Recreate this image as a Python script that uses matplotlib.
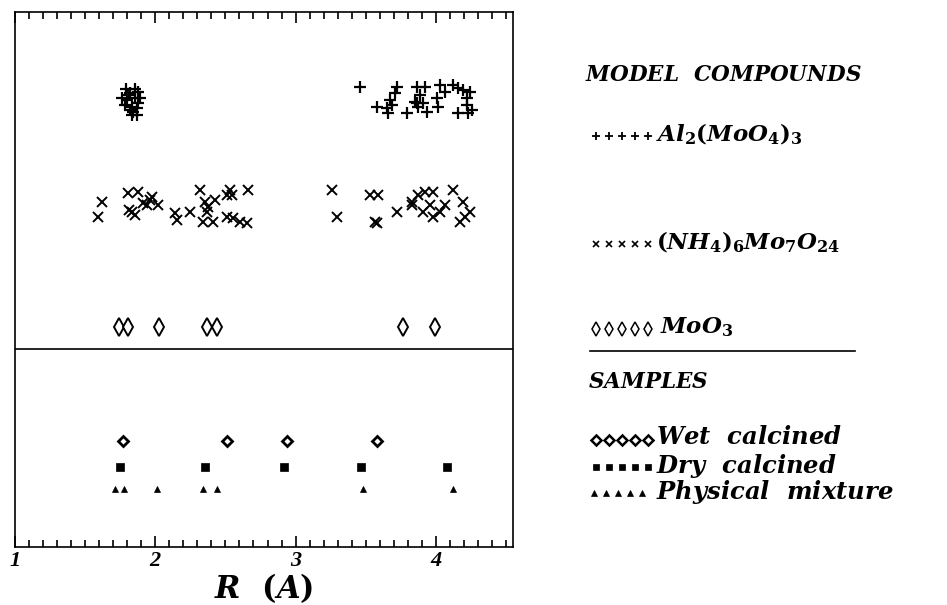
import matplotlib
matplotlib.use("Agg")
import matplotlib.pyplot as plt
from matplotlib.ticker import MultipleLocator, FixedLocator

plt.rcParams['mathtext.fontset'] = 'custom'
plt.rcParams['mathtext.it'] = 'DejaVu Serif:italic:bold'
plt.rcParams['mathtext.rm'] = 'DejaVu Serif:bold'
plt.rcParams['mathtext.bf'] = 'DejaVu Serif:bold'

# ---- data: R (Angstrom) and row height (arbitrary units) ----
al_R = [1.789, 1.855, 1.877, 1.820, 1.760, 1.891, 1.796, 1.855, 1.784, 1.832,
        1.867, 1.841, 1.867, 1.832, 1.820, 1.877, 1.805,
        3.459, 3.721, 3.863, 3.922, 4.029, 4.122, 4.158, 4.193, 4.243, 3.708,
        3.887, 4.065, 3.673, 3.851, 3.908, 4.006, 4.220, 3.578, 3.649, 3.685,
        3.872, 4.015, 4.220, 4.255, 3.659, 3.792, 3.934, 4.158, 4.229, 3.863]
al_h = [458, 458, 455, 454, 449, 449, 447, 449, 442, 440,
        439, 435, 432, 432, 437, 444, 452,
        460, 460, 460, 460, 462, 462, 459, 457, 455, 454,
        452, 455, 447, 445, 444, 449, 449, 440, 439, 442,
        440, 440, 442, 437, 434, 434, 435, 434, 434, 444]

amm_R = [1.618, 1.594, 1.808, 1.879, 1.832, 1.815, 1.855, 1.914, 1.962, 1.974,
         2.021, 1.939, 2.140, 2.152, 2.247, 2.319, 2.354, 2.378, 2.426, 2.366,
         2.342, 2.413, 2.532, 2.545, 2.509, 2.663, 2.509, 2.556, 2.604, 2.651,
         3.257, 3.293, 3.530, 3.589, 3.566, 3.578, 3.721, 3.827, 3.827, 3.875,
         3.922, 3.981, 3.958, 3.910, 3.981, 4.029, 4.065, 4.124, 4.195, 4.243,
         4.207, 4.172]
amm_h = [345, 330, 354, 355, 335, 337, 332, 344, 347, 350,
         342, 342, 334, 327, 335, 357, 345, 340, 347, 335,
         325, 325, 357, 352, 352, 357, 330, 329, 325, 324,
         357, 330, 352, 352, 325, 324, 335, 345, 342, 352,
         355, 355, 342, 335, 330, 335, 342, 357, 345, 335,
         330, 325]

moo3_R = [1.743, 1.808, 2.029, 2.366, 2.442, 3.763, 3.994]
moo3_h = [220] * 7

wet_R = [1.768, 2.509, 2.937, 3.578]
wet_h = [106] * 4
dry_R = [1.748, 2.354, 2.917, 3.466, 4.077]
dry_h = [80] * 5
phys_R = [1.713, 1.777, 2.010, 2.338, 2.438, 3.483, 4.120]
phys_h = [58] * 7

divider_h = 198
x_ticks = [1, 2, 3, 4]
x_ticklabels = ['1', '2', '3', '4']

W, H = 947, 605
fig = plt.figure(figsize=(W / 100, H / 100), dpi=100)
ax = fig.add_axes([15 / W, 1 - 547 / H, (513 - 15) / W, (547 - 12) / H])
ax.set_xlim(1, 4.55)
ax.set_ylim(0, 535)

ax.plot(al_R, al_h, ls='none', marker='+', ms=8, mew=1.6, color='black')
ax.plot(amm_R, amm_h, ls='none', marker='x', ms=6.5, mew=1.4, color='black')
ax.plot(moo3_R, moo3_h, ls='none', marker='d', ms=9, mew=1.4, mfc='white', mec='black')
ax.plot(wet_R, wet_h, ls='none', marker='D', ms=5.5, mew=2.0, mfc='white', mec='black')
ax.plot(dry_R, dry_h, ls='none', marker='s', ms=5.5, mew=0.5, color='black')
ax.plot(phys_R, phys_h, ls='none', marker='^', ms=5, mew=0.5, color='black')
ax.axhline(divider_h, color='black', lw=1.2)

for s in ax.spines.values():
    s.set_linewidth(1.2)
ax.set_yticks([])
ax.xaxis.set_major_locator(FixedLocator(x_ticks))
ax.xaxis.set_minor_locator(MultipleLocator(0.1))
ax.tick_params(axis='x', which='both', direction='in', top=True, bottom=True, width=1.2)
ax.tick_params(axis='x', which='major', length=8, pad=3)
ax.tick_params(axis='x', which='minor', length=5)
ax.set_xticklabels(x_ticklabels, fontsize=16, fontstyle='italic', fontweight='bold',
                   family='Liberation Serif')
ax.set_xlabel(r'$R\ \ (A)$', fontsize=22, labelpad=0)

# ---- legend panel in pixel coordinates ----
lg = fig.add_axes([0, 0, 1, 1])
lg.set_xlim(0, W)
lg.set_ylim(H, 0)
lg.axis('off')

def row(y, marker, ms, mew, filled, x0=596, dx=13, n=5):
    xs = [x0 + i * dx for i in range(n)]
    lg.plot(xs, [y] * n, ls='none', marker=marker, ms=ms, mew=mew,
            mfc='black' if filled else 'white', mec='black')

hkw = dict(fontsize=15.5, va='center', ha='left')
tkw = dict(fontsize=16.5, va='center', ha='left')
skw = dict(fontsize=17.5, va='center', ha='left')
lg.text(585, 75, r'$MODEL\ \ COMPOUNDS$', **hkw)
row(136, '+', 6, 1.3, True)
lg.text(656, 134, r'$Al_2(MoO_4)_3$', **tkw)
row(244, 'x', 4.5, 1.2, True)
lg.text(656, 242, r'$(NH_4)_6Mo_7O_{24}$', **tkw)
row(329, 'd', 7.5, 1.1, False)
lg.text(660, 327, r'$MoO_3$', **tkw)
lg.plot([590, 855], [351, 351], color='black', lw=1.2)
lg.text(588, 382, r'$SAMPLES$', **hkw)
row(440, 'D', 5, 1.8, False)
lg.text(656, 437, r'$Wet\ \ calcined$', **skw)
row(467, 's', 5, 0.5, True)
lg.text(656, 466, r'$Dry\ \ calcined$', **skw)
row(493, '^', 4.5, 0.5, True, x0=594, dx=12)
lg.text(656, 492, r'$Physical\ \ mixture$', **skw)

fig.savefig('out.png', dpi=100)
